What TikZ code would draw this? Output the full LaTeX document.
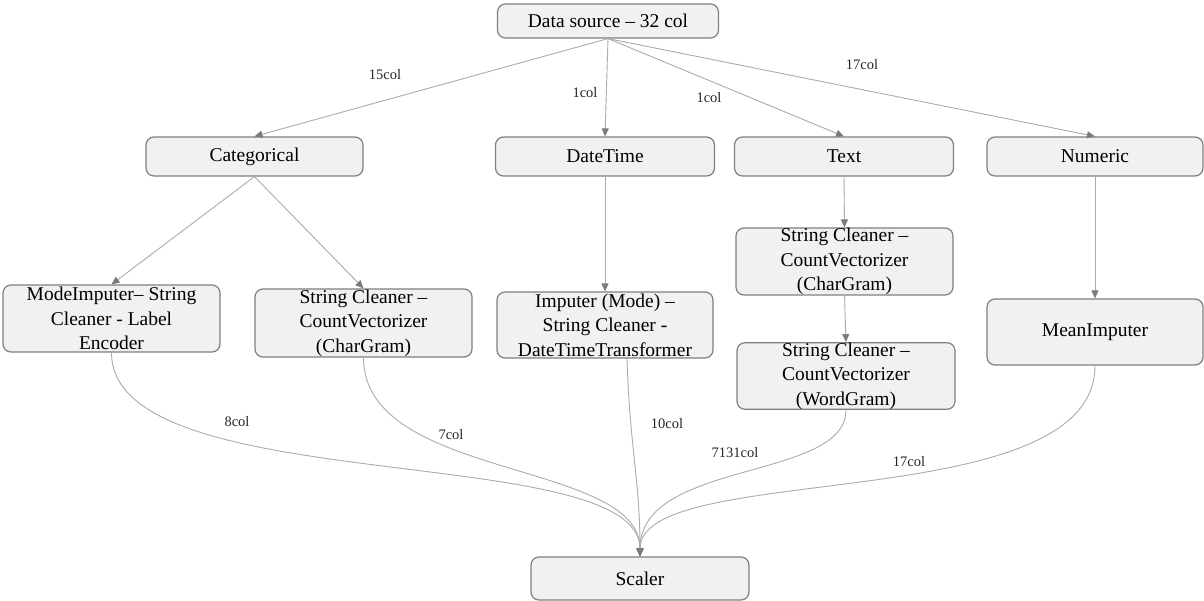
\documentclass[tikz,border=0pt]{standalone}
\usepackage{fontspec}
\setmainfont{Liberation Serif}
\usetikzlibrary{arrows.meta}
\definecolor{boxfill}{HTML}{F1F1F1}
\definecolor{boxline}{HTML}{7F7F7F}
\definecolor{edgeline}{HTML}{ABABAB}
\definecolor{tipgray}{HTML}{7A7A7A}
\begin{document}
\begin{tikzpicture}[x=1pt,y=-1pt,
  box/.style={draw=boxline,fill=boxfill,line width=1.2pt,rounded corners=8pt,
    inner sep=0pt,align=center,font=\fontsize{19.5}{24.5}\selectfont},
  flow/.style={draw=edgeline,line width=0.9pt,
    -{Triangle[length=8pt,width=7pt,color=tipgray]}},
  lbl/.style={inner sep=0pt,font=\fontsize{14.5}{16}\selectfont,text=black!85}]
\useasboundingbox (0,0) rectangle (1204,601);

% stage 0: source
\node[box,minimum width=221pt,minimum height=34pt] (src) at (608,21) {Data source -- 32 col};

% stage 1: column types
\node[box,minimum width=217pt,minimum height=39pt] (cat) at (254.5,156.5) {Categorical};
\node[box,minimum width=219pt,minimum height=39pt] (dt) at (605,156.5) {DateTime};
\node[box,minimum width=219pt,minimum height=39pt] (txt) at (844,156.5) {Text};
\node[box,minimum width=216pt,minimum height=39pt] (num) at (1095,156.5) {Numeric};

% stage 2: transformers
\node[box,minimum width=217pt,minimum height=67pt] (mode) at (111.5,318.5)
  {ModeImputer-- String\\Cleaner - Label\\Encoder};
\node[box,minimum width=217pt,minimum height=68pt] (catvec) at (363.5,323)
  {String Cleaner --\\CountVectorizer\\(CharGram)};
\node[box,minimum width=216pt,minimum height=66pt] (imp) at (605,325)
  {Imputer (Mode) --\\String Cleaner -\\DateTimeTransformer};
\node[box,minimum width=217pt,minimum height=67pt] (txtchar) at (844.5,261.5)
  {String Cleaner --\\CountVectorizer\\(CharGram)};
\node[box,minimum width=218pt,minimum height=66pt] (txtword) at (846,376)
  {String Cleaner --\\CountVectorizer\\(WordGram)};
\node[box,minimum width=216pt,minimum height=66pt] (mean) at (1095,332) {MeanImputer};

% stage 3: sink
\node[box,minimum width=218pt,minimum height=43pt] (scaler) at (640,578.5) {Scaler};

% fan-out from the source
\draw[flow] (src.south) -- (cat.north);
\draw[flow] (src.south) -- (dt.north);
\draw[flow] (src.south) -- (txt.north);
\draw[flow] (src.south) -- (num.north);

% per-type pipelines
\draw[flow] (cat.south) -- (mode.north);
\draw[flow] (cat.south) -- (catvec.north);
\draw[flow] (dt.south) -- (imp.north);
\draw[flow] (txt.south) -- (txtchar.north);
\draw[flow] (txtchar.south) -- (txtword.north);
\draw[flow] (num.south) -- (mean.north);

% merge into the scaler
\draw[flow] (mode.south) .. controls +(0,148) and +(0,-117) .. (scaler.north);
\draw[flow] (catvec.south) .. controls +(0,123) and +(0,-97) .. (scaler.north);
\draw[flow] ([xshift=22pt]imp.south) .. controls +(3,92) and +(0,-77) .. (scaler.north);
\draw[flow] (txtword.south) .. controls +(0,71) and +(0,-97) .. (scaler.north);
\draw[flow] (mean.south) .. controls +(0,153) and +(0,-97) .. (scaler.north);

% column counts
\node[lbl] (l15) at (385,75) {15col};
\node[lbl] (l1a) at (585,93) {1col};
\node[lbl] (l1b) at (709,98) {1col};
\node[lbl] (l17a) at (862,65) {17col};
\node[lbl] (l8) at (237,422) {8col};
\node[lbl] (l7) at (451,435) {7col};
\node[lbl] (l10) at (667,424) {10col};
\node[lbl] (l7131) at (735,453) {7131col};
\node[lbl] (l17b) at (909,462) {17col};
\end{tikzpicture}
\end{document}
